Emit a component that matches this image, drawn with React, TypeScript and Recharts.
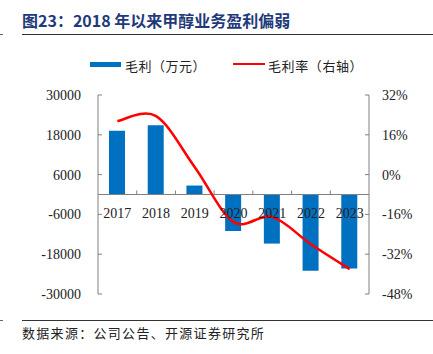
import { ComposedChart, Bar, Line, XAxis, YAxis, ReferenceLine } from 'recharts'

// 毛利（万元）与毛利率（%），2017-2023
const years = ['2017', '2018', '2019', '2020', '2021', '2022', '2023']
const grossProfit = [19200, 20900, 2700, -11000, -14800, -23000, -22300]
const grossMargin = [21.5, 23.5, 3, -19, -17, -28, -38]
const leftTicks = [30000, 18000, 6000, -6000, -18000, -30000]
const rightTicks = [32, 16, 0, -16, -32, -48]

const data = years.map((year, i) => ({ year, profit: grossProfit[i], margin: grossMargin[i] }))

const W = 433
const H = 354
const X_AXIS_H = 20
const MARGIN = { top: 95, right: 14, bottom: 60 - X_AXIS_H, left: 38 }
const LEFT_W = 60
const RIGHT_W = 50
const PLOT_LEFT = MARGIN.left + LEFT_W
const PLOT_RIGHT = W - MARGIN.right - RIGHT_W
const PLOT_TOP = MARGIN.top
const PLOT_BOTTOM = H - 60
const BAND = (PLOT_RIGHT - PLOT_LEFT) / years.length
const ZERO_Y = (PLOT_TOP + PLOT_BOTTOM) / 2

const AXIS = '#808080'
const TEXT = '#222'
const NUM_FONT = 'Liberation Serif, Times New Roman, serif'
const CJK_FONT = '"Noto Sans CJK SC", sans-serif'

// Excel-like smoothed line (Catmull-Rom through the points)
function smoothCurve(context: any) {
  let pts: number[][] = []
  return {
    areaStart() {},
    areaEnd() {},
    lineStart() {
      pts = []
    },
    point(x: number, y: number) {
      pts.push([+x, +y])
    },
    lineEnd() {
      if (!pts.length) return
      context.moveTo(pts[0][0], pts[0][1])
      for (let i = 0; i < pts.length - 1; i++) {
        const p0 = pts[i - 1] || pts[i]
        const p1 = pts[i]
        const p2 = pts[i + 1]
        const p3 = pts[i + 2] || pts[i + 1]
        const t = 1 / 6
        context.bezierCurveTo(
          p1[0] + (p2[0] - p0[0]) * t, p1[1] + (p2[1] - p0[1]) * t,
          p2[0] - (p3[0] - p1[0]) * t, p2[1] - (p3[1] - p1[1]) * t,
          p2[0], p2[1],
        )
      }
    },
  }
}

const XTick = (props: any) => {
  const { x, index, payload } = props
  return (
    <g>
      {index > 0 && (
        <line x1={x - BAND / 2} x2={x - BAND / 2} y1={ZERO_Y} y2={ZERO_Y - 4} stroke={AXIS} />
      )}
      <text x={x} y={ZERO_Y + 23} textAnchor="middle" fontSize={14} fill={TEXT} fontFamily={NUM_FONT}>
        {payload.value}
      </text>
    </g>
  )
}

const LeftTick = (props: any) => {
  const { y, payload } = props
  return (
    <g>
      <line x1={PLOT_LEFT} x2={PLOT_LEFT + 4} y1={y} y2={y} stroke={AXIS} />
      <text x={PLOT_LEFT - 17} y={y + 5} textAnchor="end" fontSize={14} fill={TEXT} fontFamily={NUM_FONT}>
        {payload.value}
      </text>
    </g>
  )
}

const RightTick = (props: any) => {
  const { y, payload } = props
  return (
    <g>
      <line x1={PLOT_RIGHT - 4} x2={PLOT_RIGHT} y1={y} y2={y} stroke={AXIS} />
      <text x={PLOT_RIGHT + 13} y={y + 5} textAnchor="start" fontSize={14} fill={TEXT} fontFamily={NUM_FONT}>
        {`${payload.value}%`}
      </text>
    </g>
  )
}

export default function App() {
  return (
    <div style={{ position: 'absolute', left: 0, top: 0, width: W, height: H, background: '#fff', overflow: 'hidden' }}>
      {/* title */}
      <div
        style={{
          position: 'absolute', left: 22, top: 8, fontSize: 16, fontWeight: 'bold',
          color: '#1F3A7A', fontFamily: CJK_FONT, whiteSpace: 'nowrap',
        }}
      >
        图23：2018 年以来甲醇业务盈利偏弱
      </div>
      <div style={{ position: 'absolute', left: 22, top: 34, width: 411, height: 1, background: '#333' }} />
      <div style={{ position: 'absolute', left: 0, top: 34, width: 3, height: 1, background: '#666' }} />

      {/* legend */}
      <div style={{ position: 'absolute', left: 90, top: 62, width: 31, height: 5, background: '#0070C0' }} />
      <div style={{ position: 'absolute', left: 125, top: 56, fontSize: 13, letterSpacing: 0.5, color: TEXT, fontFamily: CJK_FONT, whiteSpace: 'nowrap' }}>
        毛利（万元）
      </div>
      <div style={{ position: 'absolute', left: 233, top: 63, width: 32, height: 2, background: '#FF0000' }} />
      <div style={{ position: 'absolute', left: 268, top: 56, fontSize: 13, letterSpacing: 0.6, color: TEXT, fontFamily: CJK_FONT, whiteSpace: 'nowrap' }}>
        毛利率（右轴）
      </div>

      <div style={{ position: 'absolute', left: 0, top: 0 }}>
        <ComposedChart width={W} height={H} data={data} margin={MARGIN}>
          <YAxis
            yAxisId="left"
            orientation="left"
            width={LEFT_W}
            domain={[-30000, 30000]}
            ticks={leftTicks}
            interval={0}
            stroke={AXIS}
            tickLine={false}
            tick={<LeftTick />}
          />
          <YAxis
            yAxisId="right"
            orientation="right"
            width={RIGHT_W}
            domain={[-48, 32]}
            ticks={rightTicks}
            interval={0}
            stroke={AXIS}
            tickLine={false}
            tick={<RightTick />}
          />
          <ReferenceLine yAxisId="left" y={0} stroke={AXIS} />
          <Bar yAxisId="left" dataKey="profit" fill="#0070C0" barSize={16} isAnimationActive={false} />
          <Line
            yAxisId="right"
            type={smoothCurve as any}
            dataKey="margin"
            stroke="#FF0000"
            strokeWidth={2.5}
            dot={false}
            isAnimationActive={false}
          />
          <XAxis dataKey="year" height={X_AXIS_H} axisLine={false} tickLine={false} tick={<XTick />} interval={0} />
        </ComposedChart>
      </div>

      {/* footer */}
      <div style={{ position: 'absolute', left: 22, top: 320, width: 411, height: 1, background: '#333' }} />
      <div style={{ position: 'absolute', left: 0, top: 320, width: 3, height: 1, background: '#666' }} />
      <div style={{ position: 'absolute', left: 22, top: 323, fontSize: 13, letterSpacing: 1.3, color: TEXT, fontFamily: CJK_FONT, whiteSpace: 'nowrap' }}>
        数据来源：公司公告、开源证券研究所
      </div>
    </div>
  )
}
